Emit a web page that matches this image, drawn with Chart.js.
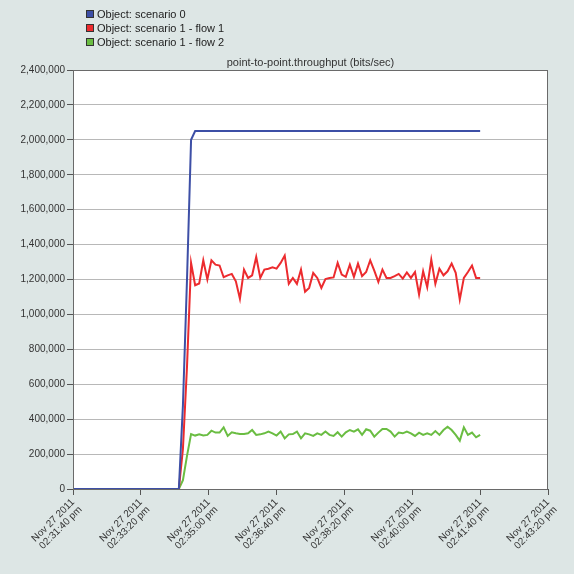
<!DOCTYPE html>
<html>
<head>
<meta charset="utf-8">
<script src="https://cdn.jsdelivr.net/npm/chart.js@4/dist/chart.umd.min.js"></script>
<style>
  html, body { margin: 0; padding: 0; background: #dde6e5; }
  #wrap { position: relative; width: 574px; height: 574px; }
  #legend { position: absolute; left: 86px; top: 7px; font: 11px "Liberation Sans", Arial, sans-serif; color: #222; }
  #legend div { height: 14px; line-height: 14px; white-space: nowrap; }
  #legend .box { display: inline-block; width: 6px; height: 6px; border: 1px solid #333; margin-right: 3px; vertical-align: 0px; }
</style>
</head>
<body>
<div id="wrap">
  <canvas id="lineChartCanvas" width="574" height="574"></canvas>
  <div id="legend"></div>
</div>
<script>
// seconds after 02:31:40 pm
const startClock = 2 * 3600 + 31 * 60 + 40;
const xTicks = [0, 100, 200, 300, 400, 500, 600, 700];
const yTicks = [0, 200000, 400000, 600000, 800000, 1000000, 1200000, 1400000, 1600000, 1800000, 2000000, 2200000, 2400000];

const seriesNames = ["Object: scenario 0", "Object: scenario 1 - flow 1", "Object: scenario 1 - flow 2"];
const seriesColors = ["#3d4fa6", "#ec2b2e", "#6abd42"];

// blue: ramp then flat
const blueSec = [0, 156, 162, 168, 174, 180, 600];
const blueVals = [0, 0, 480000, 1200000, 2000000, 2050000, 2050000];

// ramp-up before sampling starts
const leadSec = [0, 156, 162, 168];
const redLead = [0, 0, 230000, 700000];
const greenLead = [0, 0, 50000, 190000];

// sampled every 6 s from 174 s
const sampleStart = 174;
const sampleStep = 6;
const redVals = [
  1295000, 1167000, 1177000, 1310000, 1200000, 1310000, 1285000, 1280000, 1213000, 1224000,
  1232000, 1190000, 1090000, 1257000, 1209000, 1224000, 1329000, 1209000, 1257000, 1262000,
  1270000, 1262000, 1295000, 1337000, 1175000, 1209000, 1175000, 1257000, 1130000, 1152000,
  1238000, 1209000, 1152000, 1203000, 1209000, 1212000, 1295000, 1228000, 1215000, 1285000,
  1215000, 1291000, 1219000, 1243000, 1310000, 1251000, 1186000, 1257000, 1209000, 1209000,
  1219000, 1232000, 1205000, 1240000, 1209000, 1243000, 1114000, 1247000, 1156000, 1314000,
  1175000, 1262000, 1224000, 1247000, 1291000, 1238000, 1085000, 1209000, 1243000, 1280000,
  1209000, 1209000
];
const greenVals = [
  315000, 306000, 313000, 306000, 310000, 334000, 323000, 323000, 353000, 304000,
  325000, 319000, 315000, 315000, 319000, 338000, 310000, 313000, 319000, 329000,
  319000, 306000, 329000, 290000, 313000, 315000, 329000, 290000, 319000, 313000,
  304000, 319000, 310000, 329000, 310000, 304000, 325000, 300000, 325000, 338000,
  329000, 342000, 310000, 342000, 334000, 300000, 323000, 344000, 344000, 329000,
  300000, 323000, 319000, 329000, 319000, 304000, 323000, 310000, 319000, 310000,
  332000, 310000, 338000, 357000, 338000, 310000, 277000, 353000, 310000, 323000,
  296000, 310000
];

function pts(secs, vals) {
  return vals.map((v, i) => ({ x: secs[i], y: v }));
}
function sampled(lead, vals) {
  return pts(leadSec, lead).concat(vals.map((v, i) => ({ x: sampleStart + i * sampleStep, y: v })));
}
function pad(n) { return String(n).padStart(2, "0"); }
function clockLabel(s) {
  let t = startClock + s;
  let h = Math.floor(t / 3600), m = Math.floor((t % 3600) / 60), sec = t % 60;
  return ["Nov 27 2011", pad(h) + ":" + pad(m) + ":" + pad(sec) + " pm"];
}

document.querySelector("#legend").innerHTML = seriesNames
  .map((n, i) => '<div><span class="box" style="background:' + seriesColors[i] + '"></span>' + n + "</div>")
  .join("");

Chart.defaults.font.family = '"Liberation Sans", Arial, sans-serif';
Chart.defaults.font.size = 11;
Chart.defaults.color = "#333";

const plotFrame = {
  id: "plotFrame",
  beforeDraw(chart) {
    const a = chart.chartArea, c = chart.ctx;
    c.save();
    c.fillStyle = "#ffffff";
    c.fillRect(a.left, a.top, a.right - a.left, a.bottom - a.top);
    c.restore();
  },
  afterDraw(chart) {
    const a = chart.chartArea, c = chart.ctx;
    c.save();
    c.strokeStyle = "#6a6a6a";
    c.lineWidth = 1;
    c.strokeRect(a.left + 0.5, a.top + 0.5, a.right - a.left - 1, a.bottom - a.top);
    c.fillStyle = "#333";
    c.font = '11px "Liberation Sans", Arial, sans-serif';
    c.textAlign = "center";
    c.textBaseline = "middle";
    c.fillText("point-to-point.throughput (bits/sec)", (a.left + a.right) / 2, a.top - 7);
    c.restore();
  }
};

let ctx_line = document.querySelector("#lineChartCanvas").getContext("2d");

new Chart(ctx_line, {
  type: "line",
  data: {
    datasets: [
      { label: seriesNames[0], data: pts(blueSec, blueVals), borderColor: seriesColors[0] },
      { label: seriesNames[1], data: sampled(redLead, redVals), borderColor: seriesColors[1] },
      { label: seriesNames[2], data: sampled(greenLead, greenVals), borderColor: seriesColors[2] },
    ],
  },
  options: {
    responsive: false,
    animation: false,
    layout: { padding: { left: 0, top: 70, right: 26, bottom: 0 } },
    elements: {
      line: { borderWidth: 2, tension: 0 },
      point: { radius: 0 },
    },
    plugins: {
      legend: { display: false },
      tooltip: { enabled: false },
    },
    scales: {
      x: {
        type: "linear",
        min: 0,
        max: 700,
        afterBuildTicks: (s) => { s.ticks = xTicks.map((v) => ({ value: v })); },
        afterFit: (s) => { s.height = 85; },
        ticks: {
          minRotation: 45,
          maxRotation: 45,
          padding: 2,
          color: "#333",
          font: { size: 10, lineHeight: 1.05 },
          callback: (v) => clockLabel(v),
        },
        grid: { drawOnChartArea: false, drawTicks: true, tickLength: 6, tickColor: "#555" },
        border: { color: "#555" },
      },
      y: {
        min: 0,
        max: 2400000,
        afterBuildTicks: (s) => { s.ticks = yTicks.map((v) => ({ value: v })); },
        afterFit: (s) => { s.width = 73; },
        ticks: {
          padding: 2,
          color: "#333",
          font: { size: 10 },
          callback: (v) => v.toLocaleString("en-US"),
        },
        grid: { color: "#b8b8b8", tickLength: 6, tickColor: "#555" },
        border: { color: "#555" },
      },
    },
  },
  plugins: [plotFrame],
});
</script>
</body>
</html>
